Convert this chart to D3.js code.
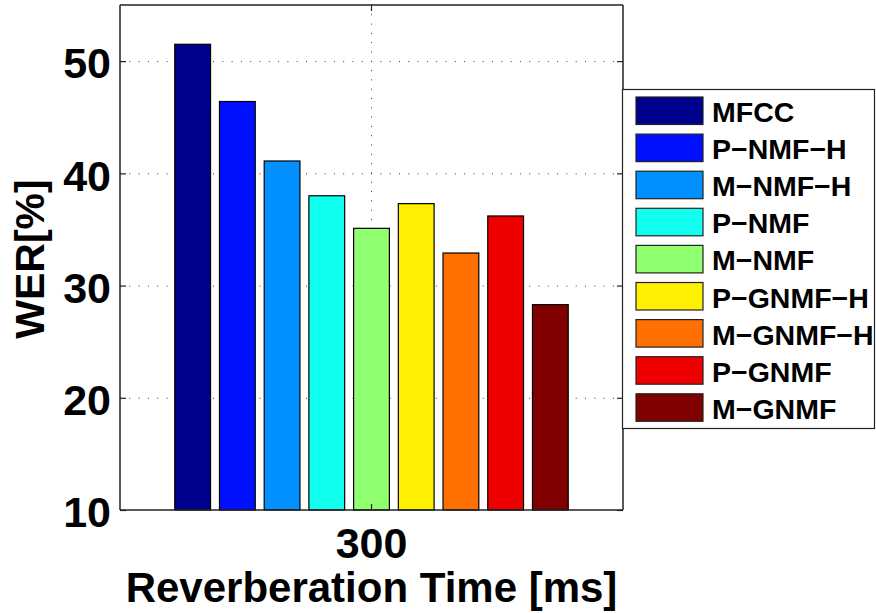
<!DOCTYPE html>
<html>
<head>
<meta charset="utf-8">
<script src="https://cdn.jsdelivr.net/npm/d3@7"></script>
<style>
  html, body { margin: 0; padding: 0; background: #fff; }
  svg { display: block; }
  text { font-family: "Liberation Sans", Arial, sans-serif; font-weight: bold; fill: #000; }
</style>
</head>
<body>
<svg id="chart" width="876" height="613"></svg>
<script>
// Word error rate per feature/method at one reverberation time
const groups = ["300"];
const methods = ["MFCC", "P\u2212NMF\u2212H", "M\u2212NMF\u2212H", "P\u2212NMF", "M\u2212NMF",
                 "P\u2212GNMF\u2212H", "M\u2212GNMF\u2212H", "P\u2212GNMF", "M\u2212GNMF"];
const wer300 = [51.5, 46.4, 41.1, 38.0, 35.1, 37.3, 32.9, 36.2, 28.3];
const colors = ["#00008f", "#0010ff", "#0090ff", "#10ffef", "#90ff70",
                "#ffef00", "#ff7000", "#ef0000", "#800000"];
const yTicks = [10, 20, 30, 40, 50];

const svg = d3.select("#chart");
const plot = { left: 120, right: 623, top: 5, bottom: 510 };

const y = d3.scaleLinear().domain([10, 55]).range([plot.bottom, plot.top]);
const x = d3.scaleBand().domain(groups).range([plot.left, plot.right]);
const groupW = x.bandwidth() * 0.8;
const xs = d3.scaleBand().domain(methods)
  .range([-groupW / 2, groupW / 2]).paddingInner(0.2).paddingOuter(0.1);

// dotted grid
const grid = svg.append("g").attr("stroke", "#333").attr("stroke-width", 1)
  .attr("stroke-dasharray", "1,8.3");
grid.selectAll("line.h").data(yTicks.slice(1)).join("line")
  .attr("x1", plot.left).attr("x2", plot.right)
  .attr("y1", d => y(d) + 0.5).attr("y2", d => y(d) + 0.5);
grid.selectAll("line.v").data(groups).join("line")
  .attr("x1", d => x(d) + x.bandwidth() / 2).attr("x2", d => x(d) + x.bandwidth() / 2)
  .attr("y1", plot.top).attr("y2", plot.bottom);

// bars
const g = svg.append("g");
groups.forEach(grp => {
  const cx = x(grp) + x.bandwidth() / 2;
  g.selectAll("rect.bar").data(methods).join("rect")
    .attr("class", "bar")
    .attr("x", m => cx + xs(m))
    .attr("width", xs.bandwidth())
    .attr("y", (m, i) => y(wer300[i]))
    .attr("height", (m, i) => y(10) - y(wer300[i]))
    .attr("fill", (m, i) => colors[i])
    .attr("stroke", "#000").attr("stroke-width", 1.2);
});

// axes frame with inward ticks
const yAxisL = d3.axisLeft(y).tickValues(yTicks).tickSize(-6).tickPadding(9).tickFormat(d3.format("d"));
const yAxisR = d3.axisRight(y).tickValues(yTicks).tickSize(-6).tickFormat("");
const xAxisB = d3.axisBottom(x).tickSize(-6).tickPadding(17);
const xAxisT = d3.axisTop(x).tickSize(-6).tickFormat("");

function styleAxis(sel) {
  sel.select(".domain").attr("stroke", "#222").attr("stroke-width", 1.5);
  sel.selectAll(".tick line").attr("stroke", "#222").attr("stroke-width", 1.2);
  sel.selectAll(".tick text").attr("font-size", 43).attr("font-weight", "bold")
    .attr("font-family", "Liberation Sans, Arial, sans-serif").attr("fill", "#000");
}
const gy = svg.append("g").attr("transform", `translate(${plot.left},0)`).call(yAxisL).call(styleAxis);
gy.select(".domain").attr("d", `M0,${plot.top}V${plot.bottom}`);
gy.selectAll(".tick text").attr("dy", "0.39em");
svg.append("g").attr("transform", `translate(${plot.right},0)`).call(yAxisR).call(styleAxis)
  .selectAll(".domain").attr("d", `M0,${plot.top}V${plot.bottom}`);
svg.append("g").attr("transform", `translate(0,${plot.bottom})`).call(xAxisB).call(styleAxis)
  .selectAll(".domain").attr("d", `M${plot.left},0H${plot.right}`);
svg.append("g").attr("transform", `translate(0,${plot.top})`).call(xAxisT).call(styleAxis)
  .selectAll(".domain").attr("d", `M${plot.left},0H${plot.right}`);

// axis titles
svg.append("text").attr("x", (plot.left + plot.right) / 2).attr("y", 602)
  .attr("text-anchor", "middle").attr("font-size", 42)
  .text("Reverberation Time [ms]");
svg.append("text")
  .attr("transform", `translate(43.5,259) rotate(-90)`)
  .attr("text-anchor", "middle").attr("font-size", 41)
  .text("WER[%]");

// legend
const leg = svg.append("g").attr("transform", "translate(622,89)");
leg.append("rect").attr("x", 0.5).attr("y", 0.5).attr("width", 252).attr("height", 339)
  .attr("fill", "#fff").attr("stroke", "#222").attr("stroke-width", 1.2);
const items = leg.selectAll("g.item").data(methods).join("g")
  .attr("transform", (d, i) => `translate(14,${8 + i * 37.1})`);
items.append("rect").attr("width", 67).attr("height", 27.5)
  .attr("fill", (d, i) => colors[i]).attr("stroke", "#222").attr("stroke-width", 1.2);
items.append("text").attr("x", 76).attr("y", 25).attr("font-size", 28.5)
  .text(d => d);
</script>
</body>
</html>
